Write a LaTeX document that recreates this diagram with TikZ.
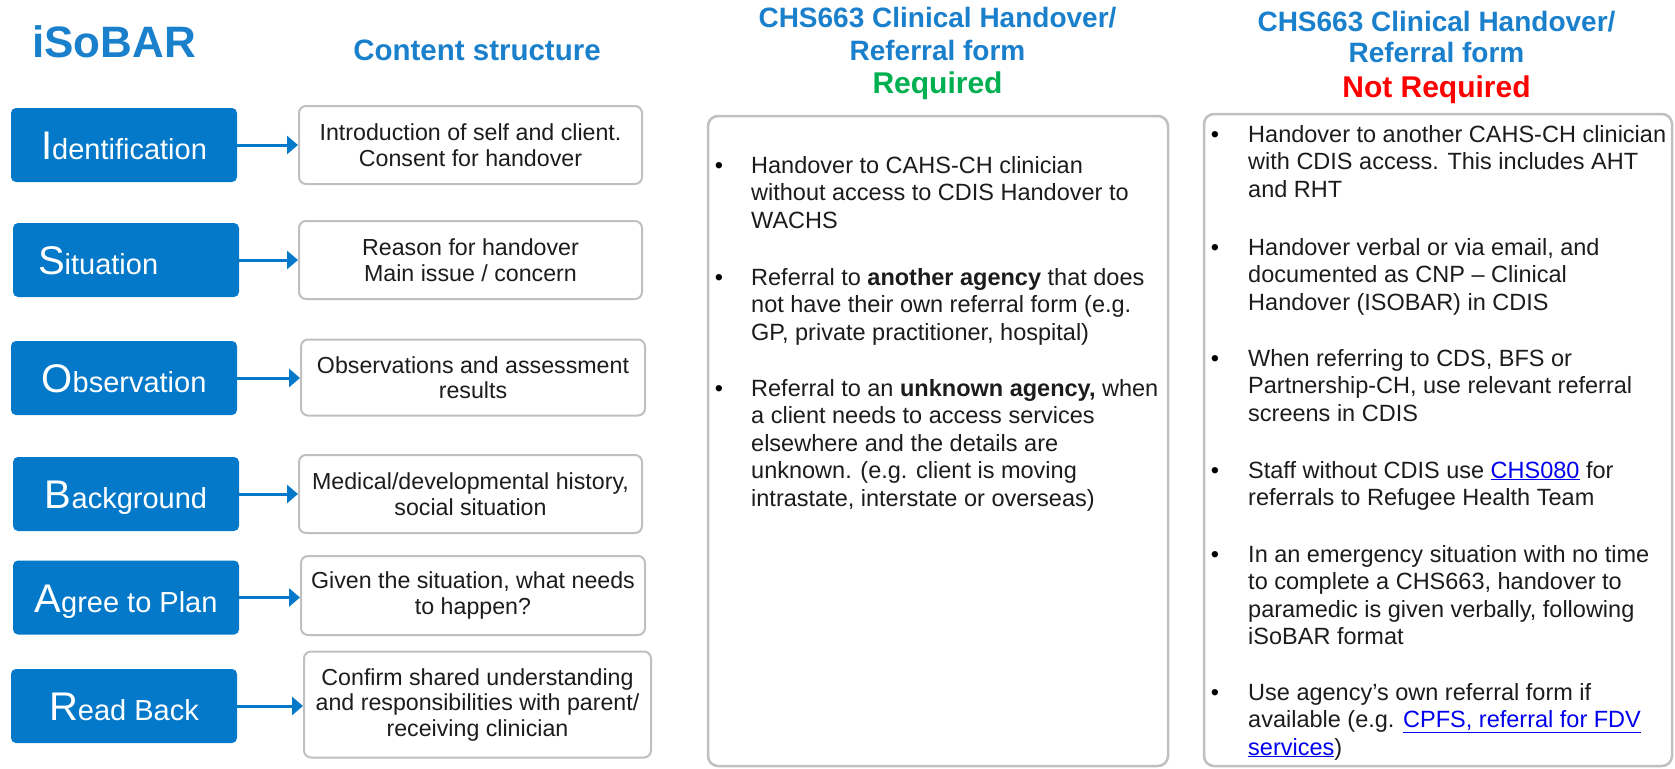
\documentclass[tikz,border=0pt]{standalone}
\usepackage{fontspec}
\setmainfont{Liberation Sans}
\usetikzlibrary{arrows.meta}
\definecolor{iblue}{RGB}{4,121,201}
\definecolor{tblue}{RGB}{26,128,204}
\definecolor{rgreen}{RGB}{0,176,80}
\definecolor{rred}{RGB}{255,0,0}
\definecolor{lnkc}{RGB}{0,0,238}
\definecolor{bord}{RGB}{192,192,192}
\definecolor{txt}{RGB}{28,28,28}
\newcommand\capL[1]{{\fontsize{40}{40}\selectfont #1}}
\newcommand\restL[1]{{\fontsize{29}{29}\selectfont #1}}
\newcommand\lnk[1]{\textcolor{lnkc}{\underline{#1}}}
\begin{document}
\begin{tikzpicture}[x=1pt,y=-1pt,
  bluebox/.style={fill=iblue, rounded corners=5pt, minimum width=226pt, minimum height=74pt,
    inner sep=0pt, text=white, text height=29pt, text depth=0pt},
  whitebox/.style={draw=bord, line width=2pt, rounded corners=7pt, fill=white,
    minimum width=343pt, minimum height=78pt, inner sep=0pt, align=center, text=txt,
    font=\fontsize{23.2}{25.5}\selectfont},
  bigbox/.style={draw=bord, line width=2.5pt, rounded corners=10pt, fill=white, inner sep=0pt},
  arr/.style={draw=iblue, line width=3pt, -{Triangle[length=11pt,width=18pt]}},
  hdr/.style={anchor=base, inner sep=0pt, text=tblue, font=\bfseries\fontsize{28}{28}\selectfont},
  hdrb/.style={anchor=base, inner sep=0pt, font=\bfseries\fontsize{30}{30}\selectfont},
  btext/.style={anchor=base west, inner sep=0pt, align=left, text=txt, font=\fontsize{23.5}{27.5}\selectfont},
  bdot/.style={anchor=base, inner sep=0pt, text=black, font=\fontsize{23.5}{27.5}\selectfont}
]
\useasboundingbox (0,0) rectangle (1675,768);

% headers
\node[hdr, font=\bfseries\fontsize{44}{44}\selectfont] (tIso) at (114,58) {iSoBAR};
\node[hdr, font=\bfseries\fontsize{29.5}{29.5}\selectfont] (tCont) at (477,60) {Content structure};
\node[hdr] (tM1) at (937.5,28) {CHS663 Clinical Handover/};
\node[hdr] (tM2) at (937.5,60) {Referral form};
\node[hdrb, text=rgreen] (tM3) at (937.5,93) {Required};
\node[hdr] (tR1) at (1436.5,32) {CHS663 Clinical Handover/};
\node[hdr] (tR2) at (1436.5,63) {Referral form};
\node[hdrb, text=rred] (tR3) at (1436.5,97) {Not Required};

% iSoBAR blue boxes
\node[bluebox] (b1) at (124,145) {\capL{I}\restL{dentification}};
\node[bluebox] (b2) at (126,260) {\makebox[176pt][l]{\capL{S}\restL{ituation}}};
\node[bluebox] (b3) at (124,378) {\capL{O}\restL{bservation}};
\node[bluebox] (b4) at (126,494) {\capL{B}\restL{ackground}};
\node[bluebox] (b5) at (126,597.5) {\capL{A}\restL{gree to Plan}};
\node[bluebox] (b6) at (124,706) {\capL{R}\restL{ead Back}};

% content boxes
\node[whitebox] (w1) at (470.5,145) {Introduction of self and client.\\Consent for handover};
\node[whitebox] (w2) at (470.5,260) {Reason for handover\\Main issue / concern};
\node[whitebox, minimum width=344pt, minimum height=76pt] (w3) at (473,377.5) {Observations and assessment\\results};
\node[whitebox] (w4) at (470.5,494) {Medical/developmental history,\\social situation};
\node[whitebox, minimum width=344pt, minimum height=79pt] (w5) at (473,595.5) {Given the situation, what needs\\to happen?};
\node[whitebox, minimum width=347pt, minimum height=106pt] (w6) at (477.5,704.5) {Confirm shared understanding\\and responsibilities with parent/\\receiving clinician};

\draw[arr] (b1.east) -- (w1.west |- b1.east);
\draw[arr] (b2.east) -- (w2.west |- b2.east);
\draw[arr] (b3.east) -- (w3.west |- b3.east);
\draw[arr] (b4.east) -- (w4.west |- b4.east);
\draw[arr] (b5.east) -- (w5.west |- b5.east);
\draw[arr] (b6.east) -- (w6.west |- b6.east);

% big boxes
\node[bigbox, minimum width=460pt, minimum height=650pt] (mid) at (938,441) {};
\node[bigbox, minimum width=468pt, minimum height=652pt] (rgt) at (1438,440) {};

% middle bullets (text nodes anchored at the baseline of their last line)
\node[bdot] (md1) at (719,173) {•};
\node[btext] (m1) at (751,228) {Handover to CAHS-CH clinician\\without access to CDIS Handover to\\WACHS};
\node[bdot] (md2) at (719,285) {•};
\node[btext] (m2) at (751,340) {Referral to \textbf{another agency} that does\\not have their own referral form (e.g.\\GP, private practitioner, hospital)};
\node[bdot] (md3) at (719,396) {•};
\node[btext] (m3) at (751,506) {Referral to an \textbf{unknown agency,} when\\a client needs to access services\\elsewhere and the details are\\unknown. (e.g. client is moving\\intrastate, interstate or overseas)};

% right bullets
\node[bdot] (rd1) at (1215,142) {•};
\node[btext] (r1) at (1248,197) {Handover to another CAHS-CH clinician\\with CDIS access. This includes AHT\\and RHT};
\node[bdot] (rd2) at (1215,255) {•};
\node[btext] (r2) at (1248,310) {Handover verbal or via email, and\\documented as CNP – Clinical\\Handover (ISOBAR) in CDIS};
\node[bdot] (rd3) at (1215,366) {•};
\node[btext] (r3) at (1248,421) {When referring to CDS, BFS or\\Partnership-CH, use relevant referral\\screens in CDIS};
\node[bdot] (rd4) at (1215,478) {•};
\node[btext] (r4) at (1248,505.5) {Staff without CDIS use \lnk{CHS080} for\\referrals to Refugee Health Team};
\node[bdot] (rd5) at (1215,562) {•};
\node[btext] (r5) at (1248,644.5) {In an emergency situation with no time\\to complete a CHS663, handover to\\paramedic is given verbally, following\\iSoBAR format};
\node[bdot] (rd6) at (1215,700) {•};
\node[btext] (r6) at (1248,755) {Use agency’s own referral form if\\available (e.g. \lnk{CPFS, referral for FDV}\\\lnk{services})};
\end{tikzpicture}
\end{document}
